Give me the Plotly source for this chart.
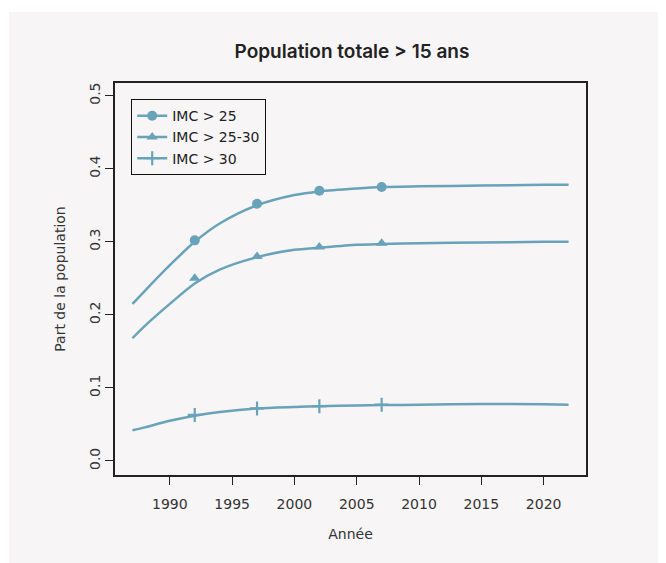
import plotly.graph_objects as go

# Smoothed curves
curve_years = [1987, 1988, 1990, 1992, 1994, 1997, 2000, 2002, 2005, 2007, 2010, 2015, 2020, 2022]
curve_imc25 = [0.215, 0.233, 0.268, 0.300, 0.325, 0.350, 0.364, 0.369, 0.373, 0.375, 0.376, 0.377, 0.378, 0.378]
curve_imc2530 = [0.168, 0.185, 0.215, 0.243, 0.262, 0.279, 0.289, 0.292, 0.296, 0.297, 0.298, 0.299, 0.300, 0.300]
curve_imc30 = [0.042, 0.046, 0.055, 0.062, 0.067, 0.072, 0.074, 0.075, 0.076, 0.0765, 0.077, 0.078, 0.0775, 0.077]

# Observed points
obs_years = [1992, 1997, 2002, 2007]
obs_imc25 = [0.302, 0.352, 0.370, 0.375]
obs_imc2530 = [0.250, 0.280, 0.293, 0.298]
obs_imc30 = [0.063, 0.072, 0.075, 0.077]

series_names = ["IMC > 25", "IMC > 25-30", "IMC > 30"]
symbols = ["circle", "triangle-up", "cross-thin"]
COLOR = "#68a3b9"

fig = go.Figure()
curves = [curve_imc25, curve_imc2530, curve_imc30]
obs = [obs_imc25, obs_imc2530, obs_imc30]
for name, sym, cv, ov in zip(series_names, symbols, curves, obs):
    if sym == "cross-thin":
        msize, mline = 10, dict(width=2.2, color=COLOR)
    else:
        msize, mline = 10, dict(width=0, color=COLOR)
    fig.add_trace(go.Scatter(x=curve_years, y=cv, mode="lines",
                             line=dict(color=COLOR, width=2.5, shape="spline", smoothing=0.8),
                             showlegend=False, hoverinfo="skip"))
    fig.add_trace(go.Scatter(x=obs_years, y=ov, mode="markers",
                             marker=dict(symbol=sym, size=msize, color=COLOR, line=mline),
                             showlegend=False))
    fig.add_trace(go.Scatter(x=[None], y=[None], mode="lines+markers", name=name,
                             line=dict(color=COLOR, width=2.5),
                             marker=dict(symbol=sym, size=msize, color=COLOR, line=mline)))

# page is rendered with an ~8px body offset
OFF = 8
L, T = 115 - OFF, 83 - OFF
pw, ph = 471, 392
W, H = 666, 563
R, B = W - L - pw, H - T - ph
bg = "#f7f5f6"

fig.add_shape(type="rect", xref="paper", yref="paper",
              x0=(9 - OFF - L) / pw, x1=1.3,
              y0=-0.4, y1=(ph + T - (12 - OFF)) / ph,
              fillcolor=bg, line=dict(width=0), layer="below")

font_fam = "'DejaVu Sans', sans-serif"
fig.update_layout(
    width=W, height=H,
    margin=dict(l=L, r=R, t=T, b=B),
    paper_bgcolor="white", plot_bgcolor="rgba(0,0,0,0)",
    font=dict(family=font_fam, color="#333333", size=14),
    title=dict(text="Population totale > 15 ans", x=(352 - OFF) / W, xanchor="center",
               y=1 - (51 - OFF) / H, yanchor="middle",
               font=dict(family="Inter, sans-serif", size=19, weight=600, color="#222222")),
    showlegend=True,
    legend=dict(x=(131 - 115) / pw, y=(475 - 99) / ph, xanchor="left", yanchor="top",
                bgcolor=bg, bordercolor="#111111", borderwidth=1.2,
                font=dict(size=14, color="#222222"), tracegroupgap=0, itemwidth=30),
    xaxis=dict(range=[1985.6, 2023.4], tickvals=[1990, 1995, 2000, 2005, 2010, 2015, 2020],
               showgrid=False, zeroline=False, showline=True, mirror=True,
               linecolor="#222222", linewidth=1.5, ticks="outside", ticklen=8,
               tickcolor="#222222", tickwidth=1.2, ticklabelstandoff=7,
               title=dict(text="Année", standoff=19, font=dict(size=14)),
               tickfont=dict(size=14)),
    yaxis=dict(range=[-0.0192, 0.5174], tickvals=[0, 0.1, 0.2, 0.3, 0.4, 0.5],
               ticktext=["0.0", "0.1", "0.2", "0.3", "0.4", "0.5"],
               tickangle=-90,
               showgrid=False, zeroline=False, showline=True, mirror=True,
               linecolor="#222222", linewidth=1.5, ticks="outside", ticklen=8,
               tickcolor="#222222", tickwidth=1.2,
               title=dict(text="Part de la population", standoff=18, font=dict(size=14)),
               tickfont=dict(size=14)),
)

fig.write_html("out.html")
